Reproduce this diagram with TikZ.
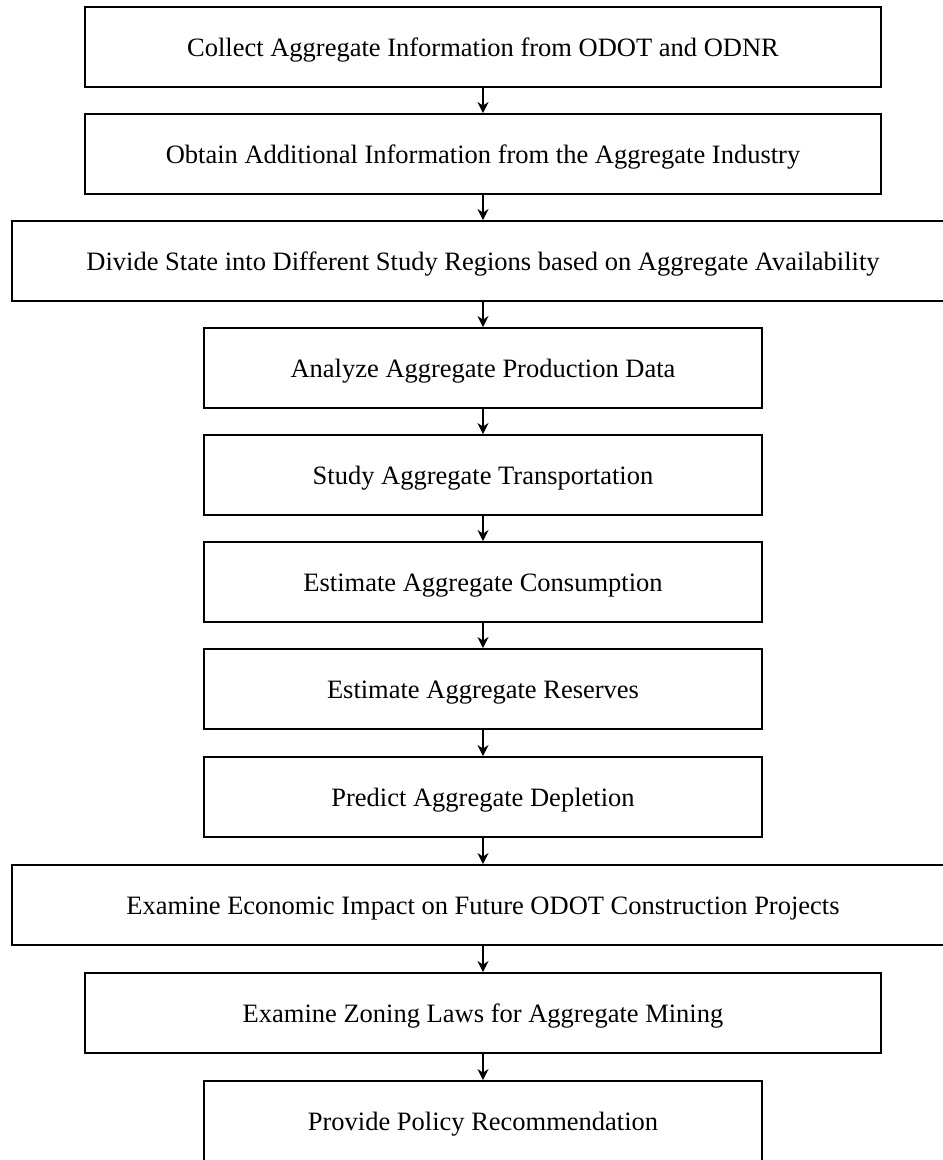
\documentclass[tikz,border=0pt]{standalone}
\usepackage{fontspec}
\setmainfont{Liberation Serif}
\usetikzlibrary{arrows.meta}
\begin{document}
\begin{tikzpicture}[x=1pt,y=-1pt,
  box/.style={draw=black, line width=1.9pt, fill=white, minimum height=80pt, inner sep=0pt, text height=19.5pt, text depth=0.5pt, font=\fontsize{26.5}{31}\selectfont},
  wbox/.style={box, minimum width=796pt},
  nbox/.style={box, minimum width=558pt},
  xbox/.style={box, minimum width=942pt},
  arr/.style={draw=black, line width=1.4pt, -{Stealth[length=11pt,width=11pt,inset=3.5pt]}}]
\useasboundingbox (0,0) rectangle (943,1160);
\clip (0,0) rectangle (943,1160);
\fill[white] (0,0) rectangle (943,1160);
\node[wbox] (b1) at (483,47) {Collect Aggregate Information from ODOT and ODNR};
\node[wbox] (b2) at (483,154) {Obtain Additional Information from the Aggregate Industry};
\node[xbox] (b3) at (483,261) {Divide State into Different Study Regions based on Aggregate Availability};
\node[nbox] (b4) at (483,368) {Analyze Aggregate Production Data};
\node[nbox] (b5) at (483,475) {Study Aggregate Transportation};
\node[nbox] (b6) at (483,582) {Estimate Aggregate Consumption};
\node[nbox] (b7) at (483,689) {Estimate Aggregate Reserves};
\node[nbox] (b8) at (483,797) {Predict Aggregate Depletion};
\node[xbox] (b9) at (483,905) {Examine Economic Impact on Future ODOT Construction Projects};
\node[wbox] (b10) at (483,1013) {Examine Zoning Laws for Aggregate Mining};
\node[nbox] (b11) at (483,1121) {Provide Policy Recommendation};
\foreach \a/\b in {b1/b2,b2/b3,b3/b4,b4/b5,b5/b6,b6/b7,b7/b8,b8/b9,b9/b10,b10/b11}
  \draw[arr] (\a.south) -- (\b.north);
\end{tikzpicture}
\end{document}
